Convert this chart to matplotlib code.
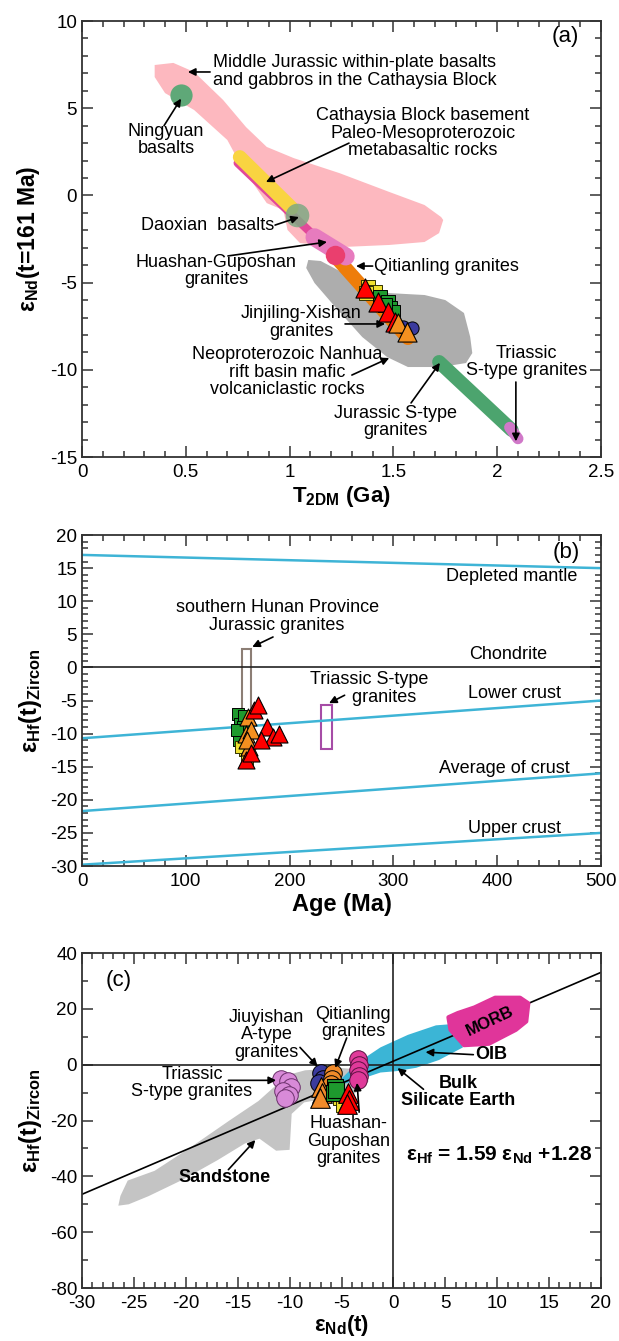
import numpy as np
import matplotlib.pyplot as plt
from matplotlib.patches import Polygon, Rectangle
from matplotlib.ticker import MultipleLocator

plt.rcParams['font.family'] = ['Liberation Sans', 'DejaVu Sans']
plt.rcParams['mathtext.fontset'] = 'custom'
plt.rcParams['mathtext.rm'] = 'Liberation Sans'
plt.rcParams['mathtext.bf'] = 'Liberation Sans:bold'
plt.rcParams['mathtext.default'] = 'regular'
plt.rcParams['axes.unicode_minus'] = False

# ---------------- panel (a): eNd(t) vs T2DM ----------------
pink_x = [0.35, 0.44, 0.54, 0.68, 0.79, 0.89, 1.02, 1.24, 1.48, 1.65, 1.73, 1.74, 1.72, 1.65,
          1.48, 1.25, 1.05, 0.99, 0.97, 0.89, 0.77, 0.70, 0.54, 0.40, 0.35]
pink_y = [7.48, 7.6, 7.08, 5.47, 3.92, 2.78, 2.14, 1.28, 0.2, -0.55, -1.24, -1.41, -2.16, -2.67,
          -2.84, -2.96, -2.73, -1.98, -0.84, -0.44, 1.63, 3.18, 4.9, 5.87, 6.79]
grey_x = [1.09, 1.15, 1.25, 1.35, 1.48, 1.65, 1.75, 1.84, 1.87, 1.88, 1.85, 1.73, 1.57, 1.47,
          1.35, 1.22, 1.12, 1.08]
grey_y = [-3.7, -3.76, -4.39, -5.25, -5.6, -5.71, -6.0, -6.74, -8.12, -9.04, -9.61, -9.84, -9.84,
          -9.27, -8.12, -6.4, -5.02, -4.16]
yellow_bar = ([0.76, 1.01], [2.2, -0.72])
magenta_bar = ([0.75, 1.14], [1.86, -2.56])
huashan_bar = ([1.12, 1.27], [-2.4, -3.5])
orange_bar = ([1.22, 1.57], [-3.5, -8.18])
jur_s_bar = ([1.72, 2.07], [-9.55, -13.45])
tri_s_bar = ([2.06, 2.10], [-13.3, -13.95])
ningyuan = (0.477, 5.76)
daoxian = (1.035, -1.12)

a_yellow_sq_x = [1.38, 1.41, 1.37]
a_yellow_sq_y = [-5.25, -5.54, -5.6]
a_green_sq_x = [1.435, 1.474, 1.484, 1.50, 1.46]
a_green_sq_y = [-5.83, -6.11, -6.46, -6.69, -6.3]
a_navy_x = [1.546, 1.59]
a_navy_y = [-7.55, -7.6]
a_red_tri_x = [1.363, 1.426, 1.474, 1.508]
a_red_tri_y = [-5.31, -6.11, -6.69, -7.26]
a_orange_tri_x = [1.52, 1.565]
a_orange_tri_y = [-7.3, -7.83]

# ---------------- panel (b): eHf(t) vs age ----------------
ref_age = [0, 500]
dm_line = [17.0, 15.0]
lower_crust = [-10.7, -5.0]
avg_crust = [-21.7, -16.0]
upper_crust = [-29.8, -25.0]
hunan_box = (154, 163, -11.0, 2.8)      # age min, age max, eps min, eps max
triassic_box = (230, 241, -12.3, -5.6)

b_green_sq_age = [150, 152, 154, 156, 151, 155, 149]
b_green_sq_eps = [-7.0, -8.5, -10.0, -7.3, -11.0, -9.0, -9.5]
b_yellow_sq_age = [157, 159, 153]
b_yellow_sq_eps = [-12.5, -14.0, -12.0]
b_orange_tri_age = [160, 158, 161, 163, 159]
b_orange_tri_eps = [-7.5, -10.0, -12.0, -9.5, -11.0]
b_red_tri_age = [166, 170, 178, 184, 190, 172, 158, 163]
b_red_tri_eps = [-6.4, -5.7, -9.0, -10.5, -10.0, -11.0, -14.0, -13.0]

# ---------------- panel (c): eHf vs eNd ----------------
slope, intercept = 1.59, 1.28
trend_x = [-30, 20]
morb_x = [5.3, 5.5, 6.8, 9.2, 11.8, 12.8, 13.0, 12.2, 9.8, 7.8, 6.2]
morb_y = [17.0, 12.5, 7.0, 7.5, 12.5, 15.5, 22.0, 24.0, 24.0, 20.5, 18.5]
oib_x = [-5.0, -3.5, -1.25, 1.4, 4.1, 5.8, 6.7, 4.4, 2.2, 0.3, -1.25, -3.5, -5.2]
oib_y = [-5.0, 0.6, 6.2, 10.7, 14.1, 14.6, 6.2, 1.7, -1.1, -2.3, -2.8, -5.6, -7.3]
sand_x = [-26.5, -26.3, -25.6, -23.0, -19.5, -15.8, -13.0, -11.5, -10.5, -8.5, -5.0, -2.5,
          -2.4, -2.9, -4.3, -6.3, -8.6, -9.8, -10.0, -11.3, -12.9, -14.3, -16.9, -20.3, -23.6, -25.5]
sand_y = [-50.5, -47.0, -41.5, -38.0, -29.5, -20.0, -13.0, -8.0, -4.0, -2.0, -1.2, -2.0,
          -6.0, -8.0, -11.8, -12.0, -13.5, -17.6, -30.5, -30.8, -26.5, -28.2, -34.1, -41.2, -47.1, -50.0]

c_orchid_x = [-10.8, -10.2, -9.9, -10.6, -10.1, -10.4]
c_orchid_y = [-5.0, -6.0, -8.0, -9.5, -11.0, -12.0]
c_magenta_x = [-3.4, -3.3, -3.4, -3.3, -3.4]
c_magenta_y = [2.0, 0.0, -2.0, -4.0, -5.5]
c_navy_x = [-7.0, -6.8, -7.2]
c_navy_y = [-3.0, -5.0, -6.5]
c_orange_ci_x = [-5.8, -5.9, -6.0]
c_orange_ci_y = [-3.0, -5.0, -7.0]
c_orange_tri_x = [-7.0, -6.9, -7.1]
c_orange_tri_y = [-8.0, -10.0, -12.0]
c_green_x = [-5.6, -5.7, -5.5]
c_green_y = [-8.0, -10.0, -9.0]
c_yellow_sq_x = [-5.1, -4.9]
c_yellow_sq_y = [-12.0, -14.5]
c_red_tri_x = [-4.4, -4.3, -4.5]
c_red_tri_y = [-10.0, -12.5, -14.0]

fig = plt.figure(figsize=(6.19, 13.41), dpi=100)
ax_a = fig.add_axes([0.1325, 0.6592, 0.8384, 0.3251])
ax_b = fig.add_axes([0.1325, 0.3542, 0.8384, 0.2468])
ax_c = fig.add_axes([0.1325, 0.0395, 0.8384, 0.2498])

arrow = dict(arrowstyle='-|>', color='black', lw=1.2, mutation_scale=11, shrinkA=0, shrinkB=0)
fs = 13


def style(ax, xmaj, xmin, ymaj, ymin):
    ax.xaxis.set_major_locator(MultipleLocator(xmaj))
    ax.xaxis.set_minor_locator(MultipleLocator(xmin))
    ax.yaxis.set_major_locator(MultipleLocator(ymaj))
    ax.yaxis.set_minor_locator(MultipleLocator(ymin))
    ax.tick_params(which='both', direction='in', top=True, right=True, labelsize=13.5,
                   color='#333333', width=1.1)
    ax.tick_params(which='major', length=8)
    ax.tick_params(which='minor', length=4)
    ax.tick_params(axis='x', pad=5)
    for s in ax.spines.values():
        s.set_linewidth(1.3)
        s.set_color('#333333')


def note(ax, text, xy, xytext, tx, ty, ha='center', **kw):
    ax.text(tx, ty, text, ha=ha, va='center', fontsize=fs, linespacing=1.02, **kw)
    if xy is not None:
        ax.annotate('', xy=xy, xytext=xytext, arrowprops=arrow)


# panel (a)
ax = ax_a
ax.add_patch(Polygon(np.column_stack([pink_x, pink_y]), closed=True, fc='#FDB8BF', ec='none'))
ax.add_patch(Polygon(np.column_stack([grey_x, grey_y]), closed=True, fc='#ADADAD', ec='none'))
ax.plot(*magenta_bar, color='#E2489A', lw=6, solid_capstyle='round')
ax.plot(*yellow_bar, color='#F9D441', lw=10, solid_capstyle='round')
ax.plot(*orange_bar, color='#EE7D0A', lw=10, solid_capstyle='round')
ax.plot(*huashan_bar, color='#E77BBE', lw=13, solid_capstyle='round')
ax.plot([1.22], [-3.4], 'o', color='#EA3F6E', ms=14, mec='none')
ax.plot(*jur_s_bar, color='#4CA46E', lw=10, solid_capstyle='round')
ax.plot(*tri_s_bar, color='#D078C8', lw=8, solid_capstyle='round')
ax.plot(*ningyuan, 'o', color='#5FA878', ms=16, mec='none')
ax.plot(*daoxian, 'o', color='#7FA883', ms=17, mec='none', alpha=0.85)

ax.scatter(a_yellow_sq_x, a_yellow_sq_y, marker='s', s=110, c='#F0E030', ec='#333300', lw=0.7, zorder=3)
ax.scatter(a_green_sq_x, a_green_sq_y, marker='s', s=110, c='#1E9A2E', ec='black', lw=0.7, zorder=3)
ax.scatter(a_navy_x, a_navy_y, marker='o', s=90, c='#3B3B9E', ec='black', lw=0.7, zorder=3)
ax.scatter(a_red_tri_x, a_red_tri_y, marker='^', s=190, c='#FF0000', ec='black', lw=0.8, zorder=4)
ax.scatter(a_orange_tri_x, a_orange_tri_y, marker='^', s=190, c='#F39020', ec='black', lw=0.8, zorder=4)

note(ax, 'Middle Jurassic within-plate basalts\nand gabbros in the Cathaysia Block',
     (0.51, 7.08), (0.617, 7.08), 0.631, 7.1, ha='left')
note(ax, 'Ningyuan\nbasalts', (0.477, 5.55), (0.395, 4.0), 0.405, 3.18)
note(ax, 'Cathaysia Block basement\nPaleo-Mesoproterozoic\nmetabasaltic rocks',
     (0.886, 0.77), (1.286, 3.0), 1.643, 3.58)
note(ax, 'Daoxian  basalts', (1.045, -1.24), (0.93, -1.7), 0.607, -1.7)
note(ax, 'Huashan-Guposhan\ngranites', (1.18, -2.67), (0.703, -3.47), 0.645, -4.33)
note(ax, 'Qitianling granites', (1.32, -4.05), (1.40, -4.05), 1.407, -4.1, ha='left')
note(ax, 'Jinjiling-Xishan\ngranites', (1.46, -7.37), (1.267, -7.37), 1.055, -7.29)
note(ax, 'Neoproterozoic Nanhua\nrift basin mafic\nvolcaniclastic rocks',
     (1.48, -9.32), (1.30, -10.3), 0.987, -10.13)
note(ax, 'Triassic\nS-type granites', (2.09, -14.1), (2.09, -10.7), 2.14, -9.55)
note(ax, 'Jurassic S-type\ngranites', (1.724, -9.6), (1.585, -11.9), 1.51, -13.0)
ax.text(2.33, 9.1, '(a)', fontsize=16, ha='center', va='center')

ax.set_xlim(0, 2.5)
ax.set_ylim(-15, 10)
style(ax, 0.5, 0.1, 5, 1)
ax.set_xticks([0, 0.5, 1, 1.5, 2, 2.5])
ax.set_xticklabels(['0', '0.5', '1', '1.5', '2', '2.5'])
ax.set_xlabel('T$_{2DM}$ (Ga)', fontsize=16, fontweight='bold', labelpad=2)
ax.set_ylabel('ε$_{Nd}$(t=161 Ma)', fontsize=16.5, fontweight='bold', labelpad=6)

# panel (b)
ax = ax_b
for vals in (dm_line, lower_crust, avg_crust, upper_crust):
    ax.plot(ref_age, vals, color='#3EB4D6', lw=1.8)
ax.axhline(0, color='#222222', lw=1.2)
a0, a1, e0, e1 = hunan_box
ax.add_patch(Rectangle((a0, e0), a1 - a0, e1 - e0, fc='white', ec='#8C7E75', lw=1.5))
a0, a1, e0, e1 = triassic_box
ax.add_patch(Rectangle((a0, e0), a1 - a0, e1 - e0, fc='white', ec='#A64CA6', lw=1.5))

ax.scatter(b_green_sq_age, b_green_sq_eps, marker='s', s=80, c='#1E9A2E', ec='black', lw=0.7, zorder=3)
ax.scatter(b_yellow_sq_age, b_yellow_sq_eps, marker='s', s=80, c='#F0E030', ec='#333300', lw=0.7, zorder=3)
ax.scatter(b_orange_tri_age, b_orange_tri_eps, marker='^', s=150, c='#F39020', ec='black', lw=0.8, zorder=4)
ax.scatter(b_red_tri_age, b_red_tri_eps, marker='^', s=150, c='#FF0000', ec='black', lw=0.8, zorder=4)

ax.text(414, 13.8, 'Depleted mantle', fontsize=fs, ha='center', va='center')
ax.text(411, 1.9, 'Chondrite', fontsize=fs, ha='center', va='center')
ax.text(417, -4.0, 'Lower crust', fontsize=fs, ha='center', va='center')
ax.text(407, -15.2, 'Average of crust', fontsize=fs, ha='center', va='center')
ax.text(417, -24.3, 'Upper crust', fontsize=fs, ha='center', va='center')
note(ax, 'southern Hunan Province\nJurassic granites', (164, 3.1), (184, 4.6), 188, 7.7)
note(ax, 'Triassic S-type\n      granites', (238, -5.4), (253, -4.2), 277, -3.2)
ax.text(467, 17.3, '(b)', fontsize=16, ha='center', va='center')

ax.set_xlim(0, 500)
ax.set_ylim(-30, 20)
style(ax, 100, 20, 5, 1)
ax.set_xlabel('Age (Ma)', fontsize=17, fontweight='bold', labelpad=2)
ax.set_ylabel('ε$_{Hf}$(t)$_{Zircon}$', fontsize=17, fontweight='bold', labelpad=4)

# panel (c)
ax = ax_c
ax.add_patch(Polygon(np.column_stack([sand_x, sand_y]), closed=True, fc='#C4C4C4', ec='none'))
ax.add_patch(Polygon(np.column_stack([oib_x, oib_y]), closed=True, fc='#3BB5D6', ec='none'))
ax.axhline(0, color='#222222', lw=1.2)
ax.axvline(0, color='#222222', lw=1.2)
ax.plot(trend_x, [slope * v + intercept for v in trend_x], color='black', lw=1.2)
# MORB field sits on top of the regression line
ax.add_patch(Polygon(np.column_stack([morb_x, morb_y]), closed=True, fc='#E0359A', ec='#E0359A',
                     lw=3, joinstyle='round', zorder=2.5))

ax.scatter(c_orchid_x, c_orchid_y, marker='o', s=160, c='#D88AD8', ec='#6A306A', lw=0.7, zorder=3)
ax.scatter(c_magenta_x, c_magenta_y, marker='o', s=160, c='#E03A9A', ec='#5A1040', lw=0.7, zorder=3)
ax.scatter(c_navy_x, c_navy_y, marker='o', s=160, c='#3B3B9E', ec='black', lw=0.7, zorder=3)
ax.scatter(c_orange_ci_x, c_orange_ci_y, marker='o', s=160, c='#F08A2A', ec='black', lw=0.7, zorder=3)
ax.scatter(c_yellow_sq_x, c_yellow_sq_y, marker='s', s=110, c='#F0E030', ec='#333300', lw=0.7, zorder=3)
ax.scatter(c_orange_tri_x, c_orange_tri_y, marker='^', s=200, c='#F08A2A', ec='black', lw=0.8, zorder=4)
ax.scatter(c_green_x, c_green_y, marker='s', s=130, c='#1E9A2E', ec='black', lw=0.8, zorder=4)
ax.scatter(c_red_tri_x, c_red_tri_y, marker='^', s=200, c='#FF0000', ec='black', lw=0.8, zorder=5)

ax.text(-26.5, 30, '(c)', fontsize=16, ha='center', va='center')
note(ax, 'Jiuyishan\nA-type\ngranites', (-7.3, -0.6), (-9.0, 6.2), -12.2, 10.7)
note(ax, 'Qitianling\ngranites', (-5.6, -1.1), (-4.5, 9.6), -3.9, 15.0)
note(ax, 'Triassic\nS-type granites', (-11.3, -5.6), (-15.9, -5.6), -19.4, -6.5)
note(ax, 'Huashan-\nGuposhan\ngranites', (-3.5, -6.5), (-3.3, -17.0), -4.3, -27.4)
note(ax, 'Sandstone', (-13.3, -27.0), (-15.9, -37.6), -16.3, -40.4, fontweight='bold')
note(ax, 'Bulk\nSilicate Earth', (0.4, -1.2), (2.9, -8.8), 6.2, -9.8, fontweight='bold')
note(ax, 'OIB', (3.1, 4.5), (7.7, 3.6), 9.4, 3.6, fontweight='bold')
ax.text(9.3, 15.6, 'MORB', fontsize=12, fontweight='bold', ha='center', va='center',
        rotation=25, zorder=6)
ax.text(10.2, -32.4, 'ε$_{Hf}$ = 1.59 ε$_{Nd}$ +1.28', fontsize=15, fontweight='bold',
        ha='center', va='center')

ax.set_xlim(-30, 20)
ax.set_ylim(-80, 40)
style(ax, 5, 1, 20, 10)
ax.set_xlabel('ε$_{Nd}$(t)', fontsize=16, fontweight='bold', labelpad=1)
ax.set_ylabel('ε$_{Hf}$(t)$_{Zircon}$', fontsize=17, fontweight='bold', labelpad=4)

fig.savefig('out.png', dpi=100)
